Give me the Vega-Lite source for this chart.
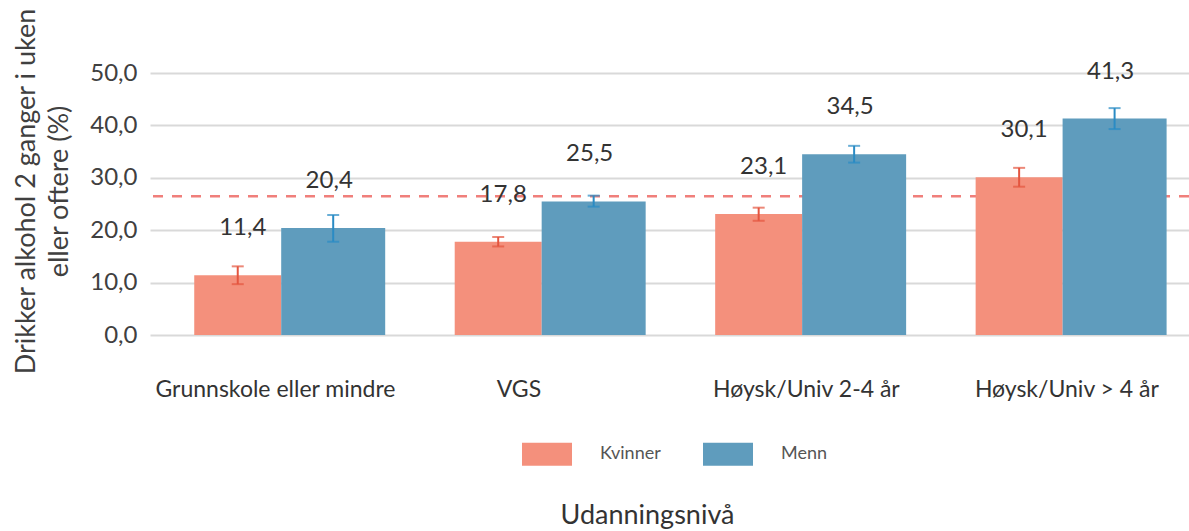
{
  "$schema": "https://vega.github.io/schema/vega-lite/v6.json",
  "width": 1039,
  "height": 262,
  "autosize": {"type": "none"},
  "padding": {"left": 150, "top": 73, "right": 0, "bottom": 196},
  "background": "white",
  "config": {
    "locale": {"number": {"decimal": ",", "thousands": " ", "grouping": [3], "currency": ["", " kr"]}},
    "font": "Lato",
    "view": {"stroke": null},
    "axisY": {
      "values": [0, 10, 20, 30, 40, 50],
      "format": ".1f",
      "domain": false,
      "ticks": false,
      "gridColor": "#d9d9d9",
      "gridWidth": 2,
      "labelFontSize": 24,
      "labelColor": "#404040",
      "labelPadding": 13,
      "titleFontSize": 27,
      "titleFontWeight": "normal",
      "titleColor": "#404040",
      "titleLineHeight": 33,
      "titleX": -116,
      "titleY": 118,
      "titleAlign": "center",
      "titleBaseline": "alphabetic"
    }
  },
  "datasets": {
    "bars": [
      {"level": "Grunnskole eller mindre", "sex": "Kvinner", "value": 11.4, "lo": 9.7, "hi": 13.1},
      {"level": "Grunnskole eller mindre", "sex": "Menn", "value": 20.4, "lo": 17.8, "hi": 22.9},
      {"level": "VGS", "sex": "Kvinner", "value": 17.8, "lo": 16.9, "hi": 18.7},
      {"level": "VGS", "sex": "Menn", "value": 25.5, "lo": 24.5, "hi": 26.6},
      {"level": "Høysk/Univ 2-4 år", "sex": "Kvinner", "value": 23.1, "lo": 21.8, "hi": 24.3},
      {"level": "Høysk/Univ 2-4 år", "sex": "Menn", "value": 34.5, "lo": 32.9, "hi": 36.1},
      {"level": "Høysk/Univ > 4 år", "sex": "Kvinner", "value": 30.1, "lo": 28.3, "hi": 31.9},
      {"level": "Høysk/Univ > 4 år", "sex": "Menn", "value": 41.3, "lo": 39.3, "hi": 43.3}
    ],
    "ref": [{"name": "Gjennomsnitt", "ref": 26.5}]
  },
  "layer": [
    {
      "data": {"name": "ref"},
      "mark": {"type": "rule", "color": "#f07f7b", "strokeWidth": 2.5, "strokeDash": [10, 9]},
      "encoding": {
        "y": {"field": "ref", "type": "quantitative", "scale": {"domain": [0, 50]}, "axis": {"title": ["Drikker alkohol 2 ganger i uken", "eller oftere (%)"]}}
      }
    },
    {
      "data": {"name": "bars"},
      "encoding": {
        "x": {
          "field": "level",
          "type": "nominal",
          "sort": ["Grunnskole eller mindre", "VGS", "Høysk/Univ 2-4 år", "Høysk/Univ > 4 år"],
          "scale": {"paddingInner": 0.267, "paddingOuter": 0.128, "align": 0.6},
          "axis": {
            "domain": false,
            "ticks": false,
            "labelAngle": 0,
            "labelFontSize": 23,
            "labelColor": "#333333",
            "labelPadding": 43,
            "labelLimit": 0,
            "labelOffset": {"condition": [{"test": "datum.value === 'VGS'", "value": -27}, {"test": "datum.value === 'Grunnskole eller mindre'", "value": -10}], "value": 0},
            "title": "Udanningsnivå",
            "titleFontSize": 27,
            "titleFontWeight": "normal",
            "titleColor": "#333333",
            "titleX": 497,
            "titleY": 180,
            "titleBaseline": "middle"
          }
        },
        "xOffset": {"field": "sex", "type": "nominal", "scale": {"paddingInner": 0, "paddingOuter": 0}},
        "color": {
          "field": "sex",
          "type": "nominal",
          "scale": {"domain": ["Kvinner", "Menn"], "range": ["#f4907c", "#5f9cbd"]},
          "legend": {
            "title": null,
            "orient": "none",
            "direction": "horizontal",
            "legendX": 372,
            "legendY": 356,
            "padding": 0,
            "symbolType": "M-1,-0.46L1,-0.46L1,0.46L-1,0.46Z",
            "symbolSize": 2500,
            "symbolStrokeWidth": 0,
            "symbolOpacity": 1,
            "labelFontSize": 18,
            "labelColor": "#555555",
            "labelOffset": 28,
            "columnPadding": 42
          }
        }
      },
      "layer": [
        {
          "transform": [{"filter": "datum.sex === 'Kvinner'"}],
          "layer": [
            {
              "mark": {"type": "bar", "width": 87, "xOffset": -4.5},
              "encoding": {"y": {"field": "value", "type": "quantitative", "scale": {"domain": [0, 50]}, "axis": {"title": ["Drikker alkohol 2 ganger i uken", "eller oftere (%)"]}}}
            }
          ]
        },
        {
          "transform": [{"filter": "datum.sex === 'Menn'"}],
          "layer": [
            {
              "mark": {"type": "bar", "width": 104, "xOffset": -4.5},
              "encoding": {"y": {"field": "value", "type": "quantitative"}}
            }
          ]
        },
        {
          "transform": [{"filter": "datum.sex === 'Kvinner'"}],
          "layer": [
            {
              "mark": {"type": "rule", "color": "#e4553f", "strokeWidth": 2, "xOffset": 5},
              "encoding": {"y": {"field": "lo", "type": "quantitative"}, "y2": {"field": "hi"}, "color": {"value": "#e4553f"}}
            },
            {
              "mark": {"type": "tick", "color": "#e4553f", "thickness": 2, "size": 12, "xOffset": 5},
              "encoding": {"y": {"field": "lo", "type": "quantitative"}, "color": {"value": "#e4553f"}}
            },
            {
              "mark": {"type": "tick", "color": "#e4553f", "thickness": 2, "size": 12, "xOffset": 5},
              "encoding": {"y": {"field": "hi", "type": "quantitative"}, "color": {"value": "#e4553f"}}
            },
            {
              "mark": {"type": "text", "fontSize": 24, "color": "#333333", "dy": -47, "dx": 5, "baseline": "middle"},
              "encoding": {"y": {"field": "value", "type": "quantitative"}, "text": {"field": "value", "type": "quantitative", "format": ".1f"}, "color": {"value": "#333333"}}
            }
          ]
        },
        {
          "transform": [{"filter": "datum.sex === 'Menn'"}],
          "layer": [
            {
              "mark": {"type": "rule", "color": "#2a8bc4", "strokeWidth": 2, "xOffset": -4},
              "encoding": {"y": {"field": "lo", "type": "quantitative"}, "y2": {"field": "hi"}, "color": {"value": "#2a8bc4"}}
            },
            {
              "mark": {"type": "tick", "color": "#2a8bc4", "thickness": 2, "size": 12, "xOffset": -4},
              "encoding": {"y": {"field": "lo", "type": "quantitative"}, "color": {"value": "#2a8bc4"}}
            },
            {
              "mark": {"type": "tick", "color": "#2a8bc4", "thickness": 2, "size": 12, "xOffset": -4},
              "encoding": {"y": {"field": "hi", "type": "quantitative"}, "color": {"value": "#2a8bc4"}}
            },
            {
              "mark": {"type": "text", "fontSize": 24, "color": "#333333", "dy": -47, "dx": -4, "baseline": "middle"},
              "encoding": {"y": {"field": "value", "type": "quantitative"}, "text": {"field": "value", "type": "quantitative", "format": ".1f"}, "color": {"value": "#333333"}}
            }
          ]
        }
      ]
    }
  ]
}
